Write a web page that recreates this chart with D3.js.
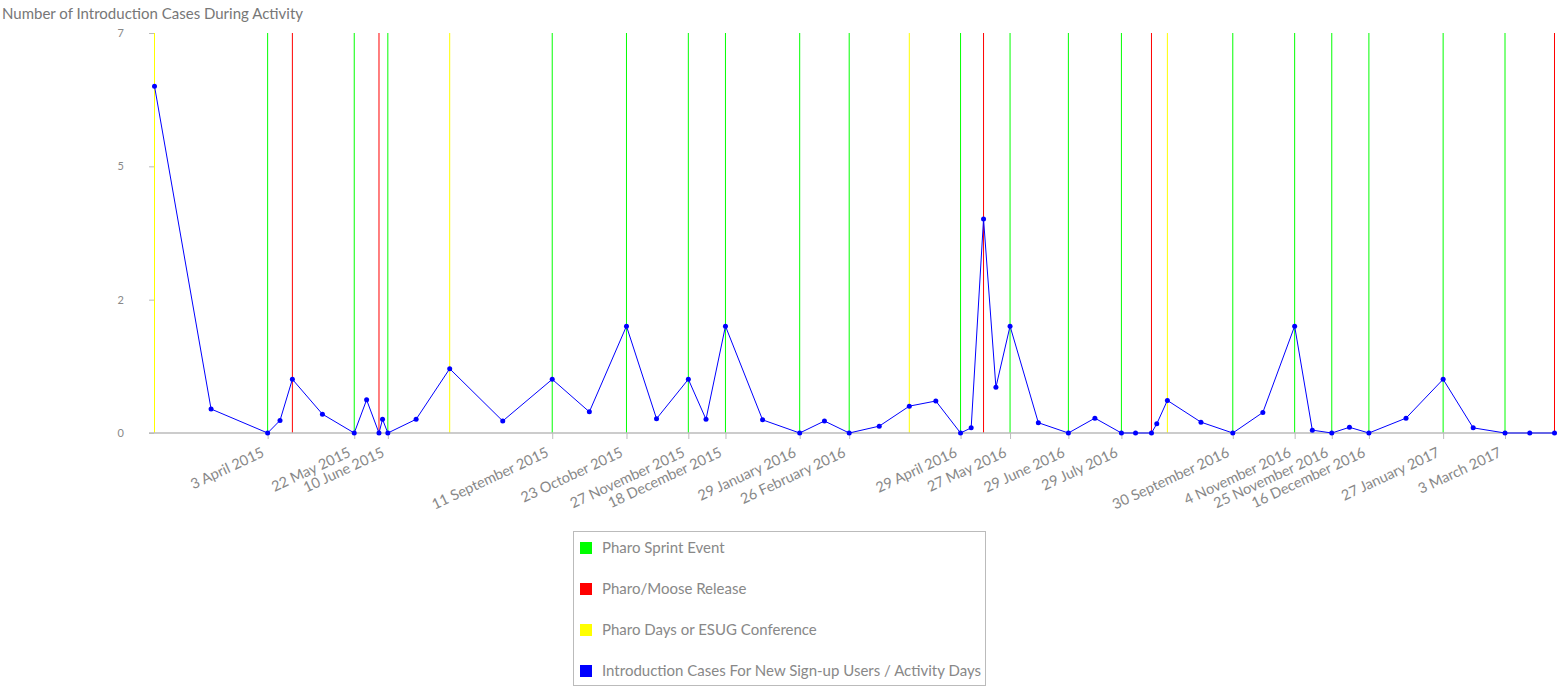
<!DOCTYPE html>
<html>
<head>
<meta charset="utf-8">
<script src="https://cdn.jsdelivr.net/npm/d3@7"></script>
<style>
  body { margin: 0; background: #fff; }
  text { font-family: "Source Sans Pro", Lato, "Open Sans", sans-serif; }
</style>
</head>
<body>
<main></main>
<script>
//activity days and the introduction cases per activity day
const activityDates = [
  "2015-01-29","2015-03-02","2015-04-03","2015-04-10","2015-04-17","2015-05-04","2015-05-22",
  "2015-05-29","2015-06-05","2015-06-07","2015-06-10","2015-06-26","2015-07-15","2015-08-14",
  "2015-09-11","2015-10-02","2015-10-23","2015-11-09","2015-11-27","2015-12-07","2015-12-18",
  "2016-01-08","2016-01-29","2016-02-12","2016-02-26","2016-03-14","2016-03-31","2016-04-15",
  "2016-04-29","2016-05-05","2016-05-12","2016-05-19","2016-05-27","2016-06-12","2016-06-29",
  "2016-07-14","2016-07-29","2016-08-06","2016-08-15","2016-08-18","2016-08-24","2016-09-12",
  "2016-09-30","2016-10-17","2016-11-04","2016-11-14","2016-11-25","2016-12-05","2016-12-16",
  "2017-01-06","2017-01-27","2017-02-13","2017-03-03","2017-03-17","2017-03-31"
];
const introCases = [
  6.07, 0.42, 0, 0.22, 0.94, 0.33, 0,
  0.58, 0, 0.24, 0, 0.24, 1.125, 0.21,
  0.94, 0.37, 1.87, 0.25, 0.94, 0.24, 1.87,
  0.23, 0, 0.21, 0, 0.12, 0.47, 0.56,
  0, 0.09, 3.745, 0.8, 1.87, 0.18, 0,
  0.26, 0, 0, 0, 0.16, 0.57, 0.19,
  0, 0.36, 1.87, 0.05, 0, 0.1, 0,
  0.26, 0.94, 0.09, 0, 0, 0
];

//event dates
const sprintDates = [
  "2015-04-03","2015-05-22","2015-06-10","2015-09-11","2015-10-23","2015-11-27","2015-12-18",
  "2016-01-29","2016-02-26","2016-04-29","2016-05-27","2016-06-29","2016-07-29","2016-09-30",
  "2016-11-04","2016-11-25","2016-12-16","2017-01-27","2017-03-03"
];
const releaseDates = ["2015-04-17","2015-06-05","2016-05-12","2016-08-15","2017-03-31"];
const conferenceDates = ["2015-01-29","2015-07-15","2016-03-31","2016-08-24"];

const yTicks = [0, 7/3, 14/3, 7];

const legendLabels = [
  "Pharo Sprint Event",
  "Pharo/Moose Release",
  "Pharo Days or ESUG Conference",
  "Introduction Cases For New Sign-up Users / Activity Days"
];
const legendColors = ["#00ff00","#ff0000","#ffff00","#0000ff"];

const parseDate = d3.timeParse("%Y-%m-%d");
const points = activityDates.map((d,i) => ({date: parseDate(d), value: introCases[i]}));

const svg = d3.select("main").append("svg")
              .attr("width",1559)
              .attr("height",689);

const xScale = d3.scaleTime()
                 .domain(d3.extent(points, d => d.date))
                 .range([154.5,1554.5]);

const yScale = d3.scaleLinear()
                 .domain([0,7])
                 .range([433,33]);

svg.append("text")
   .text("Number of Introduction Cases During Activity")
   .attr("x",2)
   .attr("y",19)
   .style("font-size","15px")
   .style("fill","#777");

//y axis, no domain line
const yAxis = svg.append("g")
   .attr("transform","translate(154,0)")
   .call(d3.axisLeft(yScale).tickValues(yTicks).tickFormat(d => Math.round(d)).tickSize(5).tickPadding(25));
yAxis.select(".domain").remove();
yAxis.selectAll("line").attr("stroke","#bbb");
yAxis.selectAll("text").style("font-size","11px").style("fill","#888").style("font-family","Lato, sans-serif");

//event lines
const eventLines = (dates, color) => {
  svg.append("g").selectAll("line")
     .data(dates.map(parseDate))
     .join("line")
     .attr("x1", d => xScale(d))
     .attr("x2", d => xScale(d))
     .attr("y1", yScale(7))
     .attr("y2", yScale(0))
     .attr("stroke", color)
     .attr("stroke-width", 1);
};
eventLines(sprintDates, "#00ff00");
eventLines(releaseDates, "#ff0000");
eventLines(conferenceDates, "#ffff00");

//x axis with ticks only at sprints
const xAxis = svg.append("g")
   .attr("transform","translate(0,433)")
   .call(d3.axisBottom(xScale)
           .tickValues(sprintDates.map(parseDate))
           .tickFormat(d3.timeFormat("%-d %B %Y"))
           .tickSize(6)
           .tickSizeOuter(0));
xAxis.select(".domain").attr("stroke","#bbb").attr("stroke-width",1.5)
     .attr("d","M149,0H1554");
xAxis.selectAll("line").attr("stroke","#bbb");
xAxis.selectAll("text")
     .attr("x",0).attr("y",0).attr("dy",0)
     .attr("text-anchor","end")
     .attr("transform","translate(-3,23) rotate(-25)")
     .style("font-size","14.5px")
     .style("fill","#888");

//the blue series
const line = d3.line()
               .x(d => xScale(d.date))
               .y(d => yScale(d.value));

svg.append("path")
   .datum(points)
   .attr("d", line)
   .attr("fill","none")
   .attr("stroke","#0000ff")
   .attr("stroke-width",1);

svg.append("g").selectAll("circle")
   .data(points)
   .join("circle")
   .attr("cx", d => xScale(d.date))
   .attr("cy", d => yScale(d.value))
   .attr("r", 2.5)
   .attr("fill","#0000ff");

//legend box
const legend = svg.append("g");
legend.append("rect")
      .attr("x",573.5)
      .attr("y",531.5)
      .attr("width",412)
      .attr("height",154)
      .attr("fill","none")
      .attr("stroke","#bbb");

legend.selectAll(".swatch")
      .data(legendLabels)
      .join("rect")
      .attr("class","swatch")
      .attr("x",580)
      .attr("y",(d,i) => 542 + i*41)
      .attr("width",12)
      .attr("height",12)
      .attr("fill",(d,i) => legendColors[i]);

legend.selectAll(".legend-text")
      .data(legendLabels)
      .join("text")
      .attr("class","legend-text")
      .text(d => d)
      .attr("x",602)
      .attr("y",(d,i) => 548 + i*41)
      .attr("dy","0.35em")
      .style("font-size","15px")
      .style("fill","#888");
</script>
</body>
</html>
